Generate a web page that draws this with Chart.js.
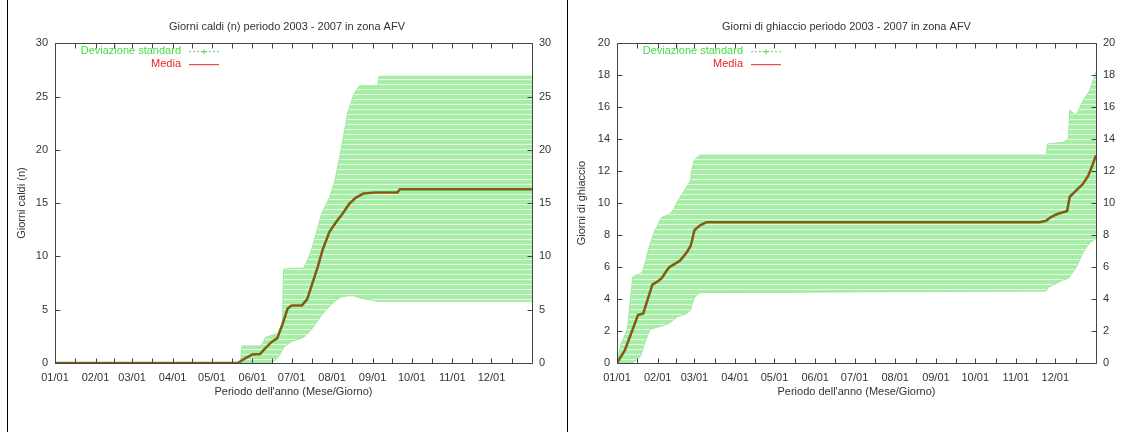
<!DOCTYPE html>
<html><head><meta charset="utf-8">
<script src="https://cdn.jsdelivr.net/npm/chart.js@4.4.0/dist/chart.umd.min.js"></script>
<style>
html,body{margin:0;padding:0;background:#fff;width:1125px;height:432px;overflow:hidden}
.panel{position:absolute;top:0;height:432px;border-left:1px solid #000}
#p1{left:7px;width:558px}
#p2{left:567px;width:557px}
canvas{display:block}
</style></head><body>
<div class="panel" id="p1"><canvas id="c1" width="558" height="432"></canvas></div>
<div class="panel" id="p2"><canvas id="c2" width="557" height="432"></canvas></div>
<script>
// ---- shared axis data ----
const monthLabels = ['01/01','02/01','03/01','04/01','05/01','06/01','07/01','08/01','09/01','10/01','11/01','12/01'];
const monthStartDays = [0,31,59,90,120,151,181,212,243,273,304,334];
const yearDays = 365;

// ---- Giorni caldi ----
const caldiTitle = 'Giorni caldi (n) periodo 2003 - 2007 in zona AFV';
const caldiYLabel = 'Giorni caldi (n)';
const caldiYMax = 30, caldiYStep = 5;
const caldiMediaDays = [0,140,145,151,157,161,166,170,174,178,181,189,193,197,201,205,210,215,220,225,230,236,245,262,264,365];
const caldiMedia     = [0,0,0.4,0.8,0.85,1.4,2.0,2.3,3.6,5.1,5.4,5.4,6.0,7.5,9.0,10.7,12.3,13.2,14.0,14.9,15.5,15.9,16.0,16.0,16.3,16.3];
const caldiBandDays  = [0,142,143,158,161,166,171,174,175,181,190,192,196,200,204,210,214,219,224,229,233,247,248,365];
const caldiSup       = [0,0,1.6,1.6,2.4,2.6,2.8,3.9,8.8,8.9,8.9,9.3,10.5,12.2,14.0,15.5,17.0,20.0,23.5,25.3,26.0,26.0,26.9,26.9];
const caldiInf       = [0,0,0,0,0,0,0.6,1.2,1.5,2.0,2.4,2.6,3.1,3.8,4.5,5.3,5.8,6.2,6.3,6.3,6.1,5.8,5.8,5.8];

// ---- Giorni di ghiaccio ----
const ghiaccioTitle = 'Giorni di ghiaccio periodo 2003 - 2007 in zona AFV';
const ghiaccioYLabel = 'Giorni di ghiaccio';
const ghiaccioYMax = 20, ghiaccioYStep = 2;
const ghiaccioMediaDays = [0,6,16,20,25,27,31,34,38,40,48,53,56,57,59,63,68,322,327,330,335,343,345,350,355,359,362,365];
const ghiaccioMedia     = [0,0.8,3.0,3.1,4.4,4.9,5.1,5.3,5.8,6.0,6.4,6.9,7.3,7.6,8.3,8.6,8.8,8.8,8.9,9.1,9.3,9.5,10.4,10.8,11.2,11.7,12.3,13.0];
const ghiaccioBandDays  = [0,3,8,12,18,20,25,29,34,40,43,46,50,53,56,57,59,63,327,328,340,344,345,350,355,360,365];
const ghiaccioSup       = [0,1.2,2.1,5.4,5.6,5.8,7.4,8.3,9.1,9.3,9.6,10.1,10.6,11.0,11.4,12.1,12.7,13.0,13.0,13.7,13.8,14.0,15.8,15.5,16.4,17.0,18.2];
const ghiaccioInf       = [0,0,0,0,0.4,1.0,2.1,2.2,2.3,2.5,2.7,2.9,3.0,3.1,3.3,3.6,4.1,4.4,4.5,4.7,5.2,5.3,5.4,6.0,6.9,7.5,7.8];

const legendSd = 'Deviazione standard';
const legendMedia = 'Media';
const xTitle = "Periodo dell'anno (Mese/Giorno)";

const FONT = 'Liberation Sans, Arial, sans-serif';

function pts(xs, ys){ return xs.map((x,i)=>({x:x, y:ys[i]})); }

function makePattern(ctx){
  const c = document.createElement('canvas');
  c.width = 4; c.height = 5;
  const g = c.getContext('2d');
  g.fillStyle = '#a6eea6'; g.fillRect(0,0,4,5);
  g.fillStyle = '#e6fae6'; g.fillRect(0,4,4,1);
  return ctx.createPattern(c,'repeat');
}

const gnuBox = {
  id:'gnuBox',
  afterDatasetsDraw(chart){
    const ctx = chart.ctx, a = chart.chartArea;
    const xs = chart.scales.x, ys = chart.scales.y;
    ctx.save();
    ctx.strokeStyle = '#444'; ctx.lineWidth = 1;
    ctx.beginPath();
    const L = Math.round(a.left)+0.5, R = Math.round(a.right)+0.5, T = Math.round(a.top)+0.5, B = Math.round(a.bottom)+0.5;
    ctx.rect(L, T, R-L, B-T);
    const xt = [];
    monthStartDays.forEach((d,i)=>{ xt.push(d); const n = i<monthStartDays.length-1?monthStartDays[i+1]:yearDays; xt.push((d+n)/2); });
    xt.forEach(v=>{
      const p = Math.round(xs.getPixelForValue(v))+0.5;
      ctx.moveTo(p,B); ctx.lineTo(p,B-5);
      ctx.moveTo(p,T); ctx.lineTo(p,T+5);
    });
    ys.ticks.forEach(t=>{
      const p = Math.round(ys.getPixelForValue(t.value))+0.5;
      ctx.moveTo(L,p); ctx.lineTo(L+5,p);
      ctx.moveTo(R,p); ctx.lineTo(R-5,p);
    });
    ctx.stroke();
    // legend
    ctx.font = '11px ' + FONT;
    ctx.textAlign = 'right'; ctx.textBaseline = 'middle';
    const tx = a.left + 126, y1 = a.top + 8, y2 = a.top + 21;
    ctx.fillStyle = '#44dd44'; ctx.fillText(legendSd, tx, y1);
    ctx.fillStyle = '#ee2222'; ctx.fillText(legendMedia, tx, y2);
    ctx.strokeStyle = '#55dd55'; ctx.setLineDash([2,2]);
    ctx.beginPath(); ctx.moveTo(tx+8, y1+0.5); ctx.lineTo(tx+38, y1+0.5); ctx.stroke();
    ctx.setLineDash([]);
    ctx.beginPath(); ctx.moveTo(tx+23, y1-2); ctx.lineTo(tx+23, y1+3); ctx.moveTo(tx+21,y1+0.5); ctx.lineTo(tx+26,y1+0.5); ctx.stroke();
    ctx.strokeStyle = '#ee2222';
    ctx.beginPath(); ctx.moveTo(tx+8, y2+0.5); ctx.lineTo(tx+38, y2+0.5); ctx.stroke();
    ctx.restore();
  }
};

function build(id, cfg){
  const canvas = document.getElementById(id);
  const ctx = canvas.getContext('2d');
  const pattern = makePattern(ctx);
  const yTicksCommon = {
    stepSize: cfg.yStep, color:'#333', font:{size:11, family:FONT}, padding:7
  };
  new Chart(ctx, {
    type:'line',
    data:{ datasets:[
      { label:legendSd, data:pts(cfg.bandDays, cfg.sup), fill:'+1', backgroundColor:pattern, order:3,
        borderColor:'#9ee89e', borderWidth:1, pointRadius:0, tension:0 },
      { label:legendSd+' inf', data:pts(cfg.bandDays, cfg.inf), fill:false, order:2,
        borderColor:'#9ee89e', borderWidth:1, pointRadius:0, tension:0 },
      { label:'media-base', data:pts(cfg.mediaDays, cfg.media), fill:false, order:1,
        borderColor:'#3c8a22', borderWidth:2.6, pointRadius:0, tension:0 },
      { label:legendMedia, data:pts(cfg.mediaDays, cfg.media), fill:false, order:0,
        borderColor:'#e0280e', borderWidth:1.1, pointRadius:0, tension:0 }
    ]},
    options:{
      responsive:false, animation:false, events:[],
      layout:{padding:0},
      plugins:{
        legend:{display:false}, tooltip:{enabled:false},
        title:{display:true, text:cfg.title, color:'#333', font:{size:11, family:FONT, weight:'normal'}, padding:{top:20,bottom:10}}
      },
      scales:{
        x:{ type:'linear', min:0, max:yearDays, position:'bottom',
            afterFit(s){ s.height = 69; },
            afterBuildTicks(s){ s.ticks = monthStartDays.map(v=>({value:v})); },
            grid:{display:false, drawTicks:false}, border:{display:false},
            ticks:{ autoSkip:false, maxRotation:0, padding:8, color:'#333', font:{size:11, family:FONT},
                    callback:(v)=> monthLabels[monthStartDays.indexOf(v)] },
            title:{display:true, text:xTitle, color:'#333', font:{size:11, family:FONT}, padding:{top:0,bottom:33}}
        },
        y:{ type:'linear', min:0, max:cfg.yMax, position:'left',
            afterFit(s){ s.width = cfg.leftW; },
            grid:{display:false, drawTicks:false}, border:{display:false},
            ticks: yTicksCommon,
            title:{display:true, text:cfg.yLabel, color:'#333', font:{size:11, family:FONT}, padding:{top:7,bottom:0}}
        },
        y2:{ type:'linear', min:0, max:cfg.yMax, position:'right',
            afterFit(s){ s.width = cfg.rightW; },
            grid:{display:false, drawTicks:false}, border:{display:false},
            ticks: yTicksCommon
        }
      }
    },
    plugins:[gnuBox]
  });
}

build('c1', { title:caldiTitle, yLabel:caldiYLabel, yMax:caldiYMax, yStep:caldiYStep,
  mediaDays:caldiMediaDays, media:caldiMedia, bandDays:caldiBandDays, sup:caldiSup, inf:caldiInf,
  leftW:47, rightW:34 });
build('c2', { title:ghiaccioTitle, yLabel:ghiaccioYLabel, yMax:ghiaccioYMax, yStep:ghiaccioYStep,
  mediaDays:ghiaccioMediaDays, media:ghiaccioMedia, bandDays:ghiaccioBandDays, sup:ghiaccioSup, inf:ghiaccioInf,
  leftW:49, rightW:29 });
</script>
</body></html>
